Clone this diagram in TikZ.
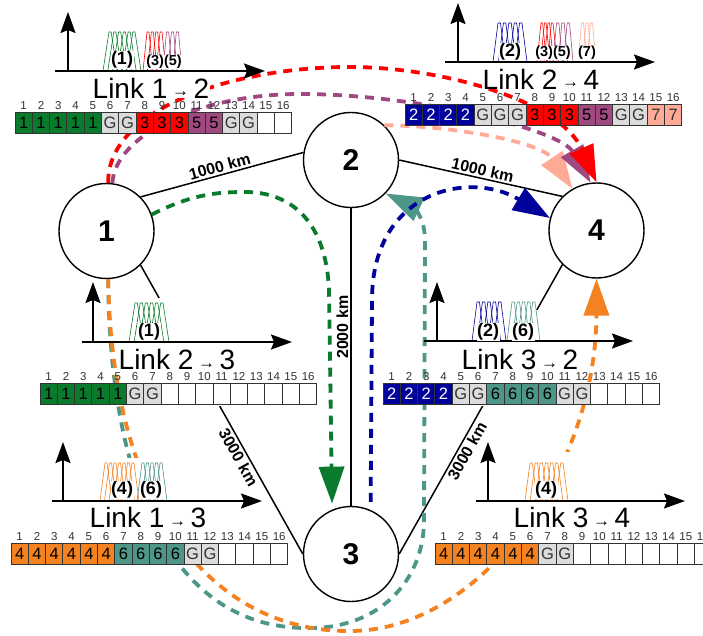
\documentclass[tikz,border=0pt]{standalone}
\usepackage{fontspec}
\setmainfont{Liberation Sans}
\usetikzlibrary{arrows.meta}

\definecolor{lpgreen}{RGB}{10,122,45}
\definecolor{lpblue}{RGB}{0,0,155}
\definecolor{lpred}{RGB}{255,0,0}
\definecolor{lporange}{RGB}{245,130,32}
\definecolor{lpteal}{RGB}{78,150,135}
\definecolor{lppurple}{RGB}{160,72,128}
\definecolor{lpsalmon}{RGB}{255,170,150}
\definecolor{guard}{RGB}{220,220,220}
\definecolor{numgray}{RGB}{51,51,51}

\newcommand\fs[1]{\fontsize{#1}{#1}\selectfont}
\newcommand\lk[2]{Link #1\,\raisebox{1.5pt}{\fs{17}→}\,#2}

% spectrum of one lightpath: colour, left, right, top, base, subcarriers, slant
\newcommand\carriers[7]{%
  \pgfmathsetmacro\cSp{(#3-#2-2*#7)/(#6-0.55)}%
  \pgfmathsetmacro\cTw{0.45*\cSp}%
  \foreach \i in {1,...,#6}{%
    \pgfmathsetmacro\cA{#2+#7+(\i-1)*\cSp}%
    \draw[sub,#1] ({\cA-#7},#5) -- (\cA,#4) -- ({\cA+\cTw},#4) -- ({\cA+\cTw+#7},#5);
  }%
}
% frequency axes: x start, x end, axis y, y-axis x, y-axis top
\newcommand\axes[5]{%
  \draw[axis] (#1,#3) -- (#2,#3);
  \draw[axis] (#4,#3) -- (#4,#5);
}
% slot occupancy bar: name, left, top, entries
\newcommand\slotbar[4]{%
  \foreach \t/\s [count=\k] in {#4}{%
    \node[slot,\s] (#1-\k) at ({#2+(\k-0.5)*17.3},{#3+10.75}) {\t};
    \node[slotno] (#1-n\k) at ({#2+(\k-0.5)*17.3},{#3-6.3}) {\k};
  }%
}

\tikzset{
  site/.style={circle, draw, line width=1.4pt, fill=white, minimum size=95pt,
    inner sep=0pt, font=\fs{30}\bfseries},
  fiber/.style={line width=1.5pt},
  dist/.style={font=\fs{16}\bfseries, inner sep=2pt},
  lightpath/.style={line width=3.8pt, dash pattern=on 9pt off 7pt,
    -{Triangle[length=37pt,width=25pt]}},
  axis/.style={line width=1.8pt, -{Stealth[length=21pt,width=15pt,inset=3pt]}},
  sub/.style={line width=0.6pt},
  tag/.style={font=\fs{18}\bfseries, fill=white, inner sep=0.5pt},
  smalltag/.style={font=\fs{14.5}\bfseries, fill=white, inner sep=0.5pt},
  linkname/.style={font=\fs{28}, fill=white, inner sep=0.3pt},
  slot/.style={draw=numgray, line width=0.9pt, minimum width=17.3pt,
    minimum height=21.5pt, inner sep=0pt, font=\fs{16.5}},
  slotno/.style={font=\fs{11.5}, text=numgray, inner sep=0pt},
  s1/.style={fill=lpgreen},
  s2/.style={fill=lpblue, text=white},
  s3/.style={fill=lpred},
  s4/.style={fill=lporange},
  s5/.style={fill=lppurple},
  s6/.style={fill=lpteal},
  s7/.style={fill=lpsalmon, text=numgray},
  sg/.style={fill=guard, text=numgray},
  se/.style={fill=white},
}

\begin{document}
\begin{tikzpicture}[x=1pt, y=-1pt]
\useasboundingbox (0,0) rectangle (703,636);

% network sites
\node[site] (N1) at (106.5,231) {1};
\node[site] (N2) at (351,160) {2};
\node[site] (N3) at (351,554) {3};
\node[site] (N4) at (596.5,230.5) {4};

% fibre links
\draw[fiber] (N1.45) -- node[dist, above, sloped] (k12) {1000 km} (N2.171);
\draw[fiber] (N2.0) -- node[dist, above, sloped] (k24) {1000 km} (N4.135);
\draw[fiber] (N3.90) -- node[dist, above, sloped, pos=0.6] (k23) {2000 km} (N2.270);
\draw[fiber] (N1.-45) -- node[dist, below, sloped, pos=0.65] (k13) {3000 km} (N3.180);
\draw[fiber] (N3.0) -- node[dist, below, sloped, pos=0.37] (k34) {3000 km} (N4.225);

% the middle spectra sit on top of the fibres
\fill[white] (82,298) rectangle (292,406);
\fill[white] (424,310) rectangle (633,406);

% lightpaths
\draw[lightpath, lpteal] (N1.-88) .. controls (110,500) and (180,630) .. (310,628)
  .. controls (380,628) and (424,580) .. (424,520) -- (425,240)
  .. controls (425,215) and (410,205) .. (N2.-44);
\draw[lightpath, lporange] (N1.-88) .. controls (112,520) and (220,632) .. (350,631)
  .. controls (480,631) and (596,470) .. (N4.-90);
\draw[lightpath, lpgreen, shorten >=6pt] (N1.20) .. controls (190,195) and (215,192) .. (245,192)
  .. controls (290,192) and (326,220) .. (329,290) -- (N3.113);
\draw[lightpath, lpblue, shorten <=8pt] (N3.66) -- (372,300)
  .. controls (372,190) and (470,170) .. (N4.165);
\draw[lightpath, lpsalmon] (N2.46) .. controls (440,125) and (540,140) .. (N4.120);
\draw[lightpath, lppurple] (N1.83) .. controls (115,135) and (200,94) .. (300,94)
  .. controls (420,94) and (560,130) .. (N4.97);
\draw[lightpath, lpred] (N1.88) .. controls (107,110) and (230,67) .. (350,67)
  .. controls (440,67) and (560,100) .. (N4.90);

% the lower spectra sit on top of the lightpaths
\fill[white] (95,458) rectangle (205,543);
\fill[white] (495,452) rectangle (685,543);

% ---- Link 1->2
\carriers{lpgreen}{103}{141}{32}{71}{6}{6}
\carriers{lpred}{143}{166}{32}{71}{4}{4}
\carriers{lppurple}{163}{182}{32}{71}{3}{3.5}
\axes{55}{265}{71}{68}{12}
\node[tag] (f12a) at (122,60) {(1)};
\node[smalltag] (f12b) at (164,62) {(3)(5)};
\node[linkname] (L12) at (151,88) {\lk{1}{2}};
\slotbar{b12}{15}{112}{1/s1,1/s1,1/s1,1/s1,1/s1,G/sg,G/sg,3/s3,3/s3,3/s3,5/s5,5/s5,G/sg,G/sg,{}/se,{}/se}

% ---- Link 2->4
\carriers{lpblue}{493}{527}{23}{62}{5}{5}
\carriers{lpred}{537}{557}{23}{62}{4}{4}
\carriers{lppurple}{553}{573}{23}{62}{3}{3.5}
\carriers{lpsalmon}{578}{596}{23}{62}{3}{3.5}
\axes{445}{655}{62}{458}{3}
\node[tag] (f24a) at (510,52) {(2)};
\node[smalltag] (f24b) at (553,53) {(3)(5)};
\node[smalltag] (f24c) at (587,53) {(7)};
\node[linkname] (L24) at (541,79) {\lk{2}{4}};
\slotbar{b24}{405}{104}{2/s2,2/s2,2/s2,2/s2,G/sg,G/sg,G/sg,3/s3,3/s3,3/s3,5/s5,5/s5,G/sg,G/sg,7/s7,7/s7}

% ---- Link 2->3
\carriers{lpgreen}{129}{169}{303}{342}{6}{6}
\axes{82}{292}{342}{93}{282}
\node[tag] (f23a) at (149,332) {(1)};
\node[linkname] (L23) at (177,359.5) {\lk{2}{3}};
\slotbar{b23}{40}{383}{1/s1,1/s1,1/s1,1/s1,1/s1,G/sg,G/sg,{}/se,{}/se,{}/se,{}/se,{}/se,{}/se,{}/se,{}/se,{}/se}

% ---- Link 3->2
\carriers{lpblue}{472}{506}{302}{341}{5}{5}
\carriers{lpteal}{507}{540}{302}{341}{5}{5}
\axes{424}{633}{341}{437}{282}
\node[tag] (f32a) at (488,332) {(2)};
\node[tag] (f32b) at (523,332) {(6)};
\node[linkname] (L32) at (520,359.5) {\lk{3}{2}};
\slotbar{b32}{383}{383}{2/s2,2/s2,2/s2,2/s2,G/sg,G/sg,6/s6,6/s6,6/s6,6/s6,G/sg,G/sg,{}/se,{}/se,{}/se,{}/se}

% ---- Link 1->3
\carriers{lporange}{100}{139}{463}{501}{7}{5}
\carriers{lpteal}{137}{167}{463}{501}{5}{5}
\axes{52}{262}{501}{63}{442}
\node[tag] (f13a) at (122,490) {(4)};
\node[tag] (f13b) at (151,490) {(6)};
\node[linkname] (L13) at (148,517.5) {\lk{1}{3}};
\slotbar{b13}{11}{543}{4/s4,4/s4,4/s4,4/s4,4/s4,4/s4,6/s6,6/s6,6/s6,6/s6,G/sg,G/sg,{}/se,{}/se,{}/se,{}/se}

% ---- Link 3->4
\carriers{lporange}{525}{568}{463}{501}{7}{5}
\axes{476}{685}{501}{488}{442}
\node[tag] (f34a) at (546,490) {(4)};
\node[linkname] (L34) at (572,517.5) {\lk{3}{4}};
\slotbar{b34}{435}{543}{4/s4,4/s4,4/s4,4/s4,4/s4,4/s4,G/sg,G/sg,{}/se,{}/se,{}/se,{}/se,{}/se,{}/se,{}/se,{}/se}

\end{tikzpicture}
\end{document}
